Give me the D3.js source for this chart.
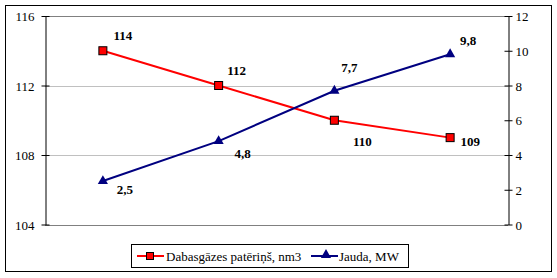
<!DOCTYPE html>
<html><head><meta charset="utf-8">
<script src="https://cdn.jsdelivr.net/npm/d3@7"></script>
<style>body{margin:0;background:#fff}svg{display:block}svg text{font-family:"Liberation Serif" !important}</style>
</head><body>
<script>
const categories = ["1", "2", "3", "4"];
const gasValues = [114, 112, 110, 109];
const powerValues = [2.5, 4.8, 7.7, 9.8];
const leftTicks = [104, 108, 112, 116];
const rightTicks = [0, 2, 4, 6, 8, 10, 12];
const gasLabels = ["114", "112", "110", "109"];
const powerLabels = ["2,5", "4,8", "7,7", "9,8"];
const seriesNames = ["Dabasgāzes patēriņš, nm3", "Jauda, MW"];

// label placement (dx, dy from marker)
const gasLabelOffsets = [[20, -15], [18, -15], [28, 21], [20, 4]];
const powerLabelOffsets = [[22, 8], [24, 12], [15, -23], [18, -14]];

(function () {
const FONT = "Liberation Serif";
const W = 557, H = 278;
const svg = d3.select("body").append("svg").attr("width", W).attr("height", H);
svg.append("rect").attr("x", 5.5).attr("y", 5.5).attr("width", 546).attr("height", 266)
  .attr("fill", "#fff").attr("stroke", "#000").attr("stroke-width", 1);

const pL = 45, pR = 508, pT = 16, pB = 224.5;
const x = d3.scaleBand().domain(categories).range([pL, pR]);
const yL = d3.scaleLinear().domain([104, 116]).range([pB, pT]);
const yR = d3.scaleLinear().domain([0, 12]).range([pB, pT]);

svg.append("g").selectAll("line").data(leftTicks).join("line")
  .attr("x1", pL).attr("x2", pR)
  .attr("y1", d => Math.round(yL(d)) + 0.5).attr("y2", d => Math.round(yL(d)) + 0.5)
  .attr("stroke", d => (d === 104 || d === 116) ? "#808080" : "#c0c0c0");

const axL = svg.append("g").attr("transform", `translate(${pL + 0.5},0)`)
  .call(d3.axisLeft(yL).tickValues(leftTicks).tickSize(4).tickSizeOuter(0).tickFormat(d3.format("d")));
axL.select(".domain").attr("stroke", "#000");
axL.selectAll(".tick line").attr("stroke", "#000").attr("x2", 4).attr("x1", -4);
axL.selectAll(".tick text").attr("x", -11).attr("dy", "0.35em");

const axR = svg.append("g").attr("transform", `translate(${pR + 0.5},0)`)
  .call(d3.axisRight(yR).tickValues(rightTicks).tickSize(4).tickSizeOuter(0));
axR.select(".domain").attr("stroke", "#000");
axR.selectAll(".tick line").attr("stroke", "#000").attr("x1", -4).attr("x2", 4);
axR.selectAll(".tick text").attr("x", 7).attr("dy", "0.35em");

const cx = d => x(d) + x.bandwidth() / 2;

const gasData = categories.map((c, i) => ({c, v: gasValues[i], i}));
const powData = categories.map((c, i) => ({c, v: powerValues[i], i}));

svg.append("path").datum(gasData)
  .attr("d", d3.line().x(d => cx(d.c)).y(d => yL(d.v)))
  .attr("fill", "none").attr("stroke", "#ff0000").attr("stroke-width", 2);
svg.append("path").datum(powData)
  .attr("d", d3.line().x(d => cx(d.c)).y(d => yR(d.v)))
  .attr("fill", "none").attr("stroke", "#000080").attr("stroke-width", 2);

svg.append("g").selectAll("rect").data(gasData).join("rect")
  .attr("x", d => cx(d.c) - 4).attr("y", d => yL(d.v) - 4).attr("width", 8).attr("height", 8)
  .attr("fill", "#ff0000").attr("stroke", "#000").attr("stroke-width", 1);

const tri = d3.symbol().type(d3.symbolTriangle).size(45);
svg.append("g").selectAll("path").data(powData).join("path")
  .attr("transform", d => `translate(${cx(d.c)},${yR(d.v)})`)
  .attr("d", tri).attr("fill", "#000080");

svg.append("g").selectAll("text").data(gasData).join("text")
  .attr("x", d => cx(d.c) + gasLabelOffsets[d.i][0])
  .attr("y", d => yL(d.v) + gasLabelOffsets[d.i][1])
  .attr("text-anchor", "middle").attr("dy", "0.35em")
  .attr("font-weight", "bold").text(d => gasLabels[d.i]);
svg.append("g").selectAll("text").data(powData).join("text")
  .attr("x", d => cx(d.c) + powerLabelOffsets[d.i][0])
  .attr("y", d => yR(d.v) + powerLabelOffsets[d.i][1])
  .attr("text-anchor", "middle").attr("dy", "0.35em")
  .attr("font-weight", "bold").text(d => powerLabels[d.i]);

const lg = svg.append("g");
lg.append("rect").attr("x", 131.5).attr("y", 244.5).attr("width", 277).attr("height", 23)
  .attr("fill", "#fff").attr("stroke", "#000");
lg.append("line").attr("x1", 137).attr("x2", 164).attr("y1", 256).attr("y2", 256)
  .attr("stroke", "#ff0000").attr("stroke-width", 2);
lg.append("rect").attr("x", 146.5).attr("y", 252.5).attr("width", 7).attr("height", 7)
  .attr("fill", "#ff0000").attr("stroke", "#000");
lg.append("text").attr("x", 166).attr("y", 256).attr("dy", "0.35em")
  .text(seriesNames[0]);
lg.append("line").attr("x1", 311).attr("x2", 338).attr("y1", 256).attr("y2", 256)
  .attr("stroke", "#000080").attr("stroke-width", 2);
lg.append("path").attr("transform", "translate(326,255)").attr("d", tri).attr("fill", "#000080");
lg.append("text").attr("x", 339).attr("y", 256).attr("dy", "0.35em")
  .text(seriesNames[1]);

svg.selectAll("g").attr("font-family", null).attr("font-size", null);
svg.selectAll("text").attr("font-family", FONT).attr("font-size", 13).attr("fill", "#000")
  .style("font-family", FONT, "important");
})();
</script>
</body></html>
